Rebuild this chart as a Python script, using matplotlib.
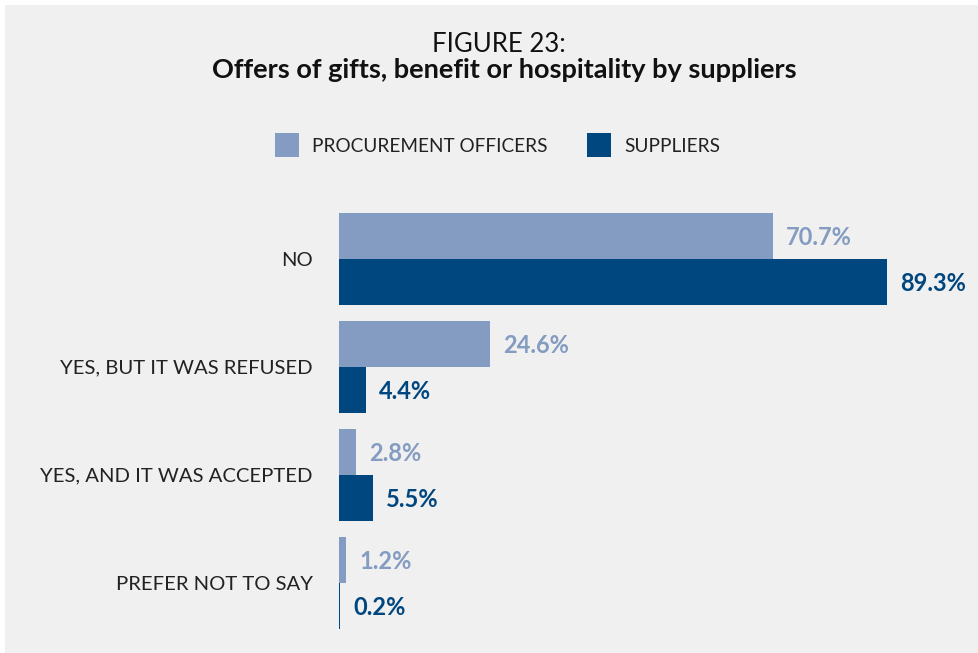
import matplotlib
matplotlib.use("Agg")
import matplotlib.pyplot as plt
from matplotlib.patches import Rectangle

# Data
categories = ["NO", "YES, BUT IT WAS REFUSED", "YES, AND IT WAS ACCEPTED", "PREFER NOT TO SAY"]
procurement_officers = [70.7, 24.6, 2.8, 1.2]
suppliers = [89.3, 4.4, 5.5, 0.2]
series_names = ["PROCUREMENT OFFICERS", "SUPPLIERS"]

title_line1 = "FIGURE 23:"
title_line2 = "Offers of gifts, benefit or hospitality by suppliers"

c_light = "#849cc1"
c_dark = "#00467f"
bg = "#f0f0f0"
txt = "#222222"
FONT = ["Lato", "DejaVu Sans"]

W, H = 979, 653
fig = plt.figure(figsize=(W / 100, H / 100), dpi=100, facecolor="white")

# light grey panel with thin white margin on top and left
fig.patches.append(Rectangle((5 / W, 0), (W - 5) / W, (H - 5) / H,
                             transform=fig.transFigure, facecolor=bg,
                             edgecolor="none", zorder=-10))

def fx(px):
    return px / W

def fy(py):
    return 1 - py / H

# plot area
left_px, top_px, bottom_px = 339, 213, 629
px_per_unit = 6.137
xmax = 100
ax = fig.add_axes([fx(left_px), fy(bottom_px),
                   xmax * px_per_unit / W, (bottom_px - top_px) / H])
ax.set_zorder(5)
ax.set_facecolor("none")
for s in ax.spines.values():
    s.set_visible(False)
ax.set_xticks([])
ax.set_yticks([])

bh = 46 / 108
ypos = list(range(len(categories)))
ax.set_xlim(0, xmax)
ax.set_ylim(len(categories) - 1 + bh, -bh)

ax.barh([y - bh / 2 for y in ypos], procurement_officers, height=bh,
        color=c_light, linewidth=0)
ax.barh([y + bh / 2 for y in ypos], suppliers, height=bh,
        color=c_dark, linewidth=0)

off = 13 / px_per_unit
for y, v in zip(ypos, procurement_officers):
    ax.text(v + off, y - bh / 2 + 0.01, f"{v}%", color=c_light, fontsize=17,
            fontweight="bold", va="center", ha="left", family=FONT, clip_on=False)
for y, v in zip(ypos, suppliers):
    ax.text(v + off, y + bh / 2 + 0.01, f"{v}%", color=c_dark, fontsize=17,
            fontweight="bold", va="center", ha="left", family=FONT, clip_on=False)

for y, cat in zip(ypos, categories):
    ax.text(-26 / px_per_unit, y + 0.01, cat, color=txt, fontsize=14.6,
            va="center", ha="right", family=FONT, clip_on=False)

# title
fig.text(fx(499), fy(45), title_line1, ha="center", va="center", fontsize=18.5,
         color="#111111", family=FONT)
fig.text(fx(504), fy(70), title_line2, ha="center", va="center", fontsize=19.5,
         fontweight="bold", color="#111111", family=FONT)

# legend
for x0, name, col in [(275, series_names[0], c_light), (587, series_names[1], c_dark)]:
    fig.patches.append(Rectangle((fx(x0), fy(157)), 24 / W, 24 / H,
                                 transform=fig.transFigure, facecolor=col,
                                 edgecolor="none"))
    fig.text(fx(x0 + 37), fy(146), name, ha="left", va="center",
             fontsize=13.7, color=txt, family=FONT)

fig.savefig("out.png", dpi=100, facecolor="white")
